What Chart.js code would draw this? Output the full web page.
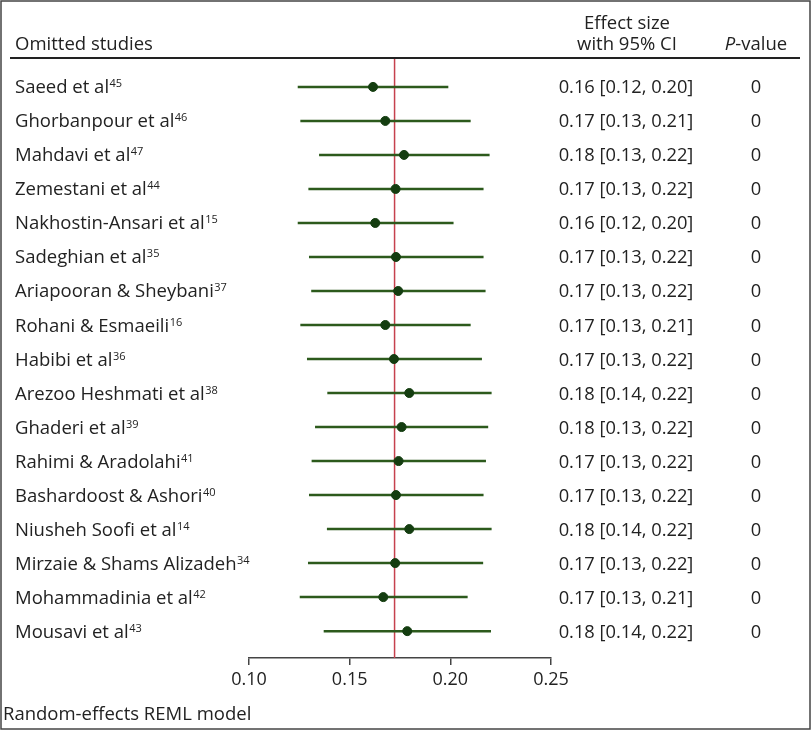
<!DOCTYPE html>
<html>
<head>
<meta charset="utf-8">
<script src="https://cdn.jsdelivr.net/npm/chart.js@4.4.1/dist/chart.umd.min.js"></script>
<style>
  body { margin: 0; background: #fff; }
  canvas { display: block; }
</style>
</head>
<body>
<canvas id="forest" width="812" height="731"></canvas>
<script>
// omitted study names + reference superscript
const studies = ['Saeed et al', 'Ghorbanpour et al', 'Mahdavi et al', 'Zemestani et al',
  'Nakhostin-Ansari et al', 'Sadeghian et al', 'Ariapooran & Sheybani', 'Rohani & Esmaeili',
  'Habibi et al', 'Arezoo Heshmati et al', 'Ghaderi et al', 'Rahimi & Aradolahi',
  'Bashardoost & Ashori', 'Niusheh Soofi et al', 'Mirzaie & Shams Alizadeh',
  'Mohammadinia et al', 'Mousavi et al'];
const refs = ['45', '46', '47', '44', '15', '35', '37', '16', '36', '38', '39', '41', '40', '14', '34', '42', '43'];

const effect = [0.1616, 0.1677, 0.1770, 0.1728, 0.1627, 0.1730, 0.1741, 0.1677, 0.1720,
  0.1796, 0.1758, 0.1743, 0.1730, 0.1796, 0.1726, 0.1667, 0.1786];
const lower = [0.1242, 0.1255, 0.1348, 0.1295, 0.1242, 0.1298, 0.1309, 0.1255, 0.1288,
  0.1389, 0.1328, 0.1311, 0.1298, 0.1387, 0.1293, 0.1252, 0.1371];
const upper = [0.1990, 0.2101, 0.2195, 0.2165, 0.2016, 0.2165, 0.2175, 0.2101, 0.2157,
  0.2205, 0.2188, 0.2177, 0.2165, 0.2205, 0.2163, 0.2086, 0.2202];
const pvalues = [0, 0, 0, 0, 0, 0, 0, 0, 0, 0, 0, 0, 0, 0, 0, 0, 0];
const pooled = 0.1723;
const xTicks = [0.10, 0.15, 0.20, 0.25];

const FONT = '"Open Sans"';
const FS = 18.5;   // labels
const NS = 18.3;   // numbers
const yMin = -0.85, yMax = 16.79;

var ciSets = studies.map((s, i) => ({
  type: 'line',
  data: [{x: lower[i], y: i}, {x: upper[i], y: i}],
  borderColor: '#2c5a1c',
  borderWidth: 2.5,
  pointRadius: 0,
  order: 2
}));

var pointSet = {
  type: 'scatter',
  data: effect.map((v, i) => ({x: v, y: i})),
  backgroundColor: '#143d10',
  borderColor: '#143d10',
  pointRadius: 4.5,
  order: 1
};

var pooledSet = {
  type: 'line',
  data: [{x: pooled, y: yMin}, {x: pooled, y: yMax}],
  borderColor: '#c6414e',
  borderWidth: 1.5,
  pointRadius: 0,
  order: 3
};

const textPlugin = {
  id: 'forestText',
  afterDraw(chart) {
    const c = chart.ctx;
    const yS = chart.scales.y;
    c.save();
    c.fillStyle = '#222';
    c.font = FS + 'px ' + FONT;
    c.textBaseline = 'alphabetic';

    // header
    c.textAlign = 'left';
    c.fillText('Omitted studies', 15, 50);
    c.textAlign = 'center';
    c.fillText('Effect size', 627, 29);
    c.fillText('with 95% CI', 627, 50);
    c.font = 'italic ' + FS + 'px ' + FONT;
    var pw = c.measureText('P').width;
    c.font = FS + 'px ' + FONT;
    var vw = c.measureText('-value').width;
    var px = 756 - (pw + vw) / 2;
    c.textAlign = 'left';
    c.font = 'italic ' + FS + 'px ' + FONT;
    c.fillText('P', px, 50);
    c.font = FS + 'px ' + FONT;
    c.fillText('-value', px + pw, 50);

    // rows
    studies.forEach((s, i) => {
      const y = yS.getPixelForValue(i) + 6.5;
      c.font = FS + 'px ' + FONT;
      c.textAlign = 'left';
      c.fillText(s, 15, y);
      const w = c.measureText(s).width;
      c.font = '11px ' + FONT;
      c.fillText(refs[i], 15 + w + 0.5, y - 6);
      c.font = NS + 'px ' + FONT;
      c.textAlign = 'center';
      c.fillText(effect[i].toFixed(2) + ' [' + lower[i].toFixed(2) + ', ' + upper[i].toFixed(2) + ']', 626, y);
      c.fillText(String(pvalues[i]), 756, y);
    });

    c.font = FS + 'px ' + FONT;
    c.textAlign = 'left';
    c.fillText('Random-effects REML model', 3, 720);

    // rules and frame
    c.strokeStyle = '#222';
    c.lineWidth = 2;
    c.beginPath();
    c.moveTo(10, 58);
    c.lineTo(800, 58);
    c.stroke();
    c.strokeStyle = '#444';
    c.lineWidth = 1.5;
    c.strokeRect(1, 1, 809, 728);
    c.restore();
  }
};

var ctx = document.getElementById('forest').getContext('2d');
var chart = new Chart(ctx, {
  data: { datasets: [pooledSet].concat(ciSets).concat([pointSet]) },
  options: {
    responsive: false,
    devicePixelRatio: 1,
    animation: false,
    layout: { padding: { left: 249, right: 261, top: 58, bottom: 33 } },
    plugins: { legend: { display: false }, tooltip: { enabled: false } },
    scales: {
      x: {
        type: 'linear',
        min: 0.10,
        max: 0.25,
        afterBuildTicks: (scale) => { scale.ticks = xTicks.map(v => ({value: v})); },
        afterFit: (scale) => { scale.height = 40; },
        ticks: {
          callback: (v) => v.toFixed(2),
          color: '#222',
          font: { family: 'Open Sans', size: 18 },
          padding: 4,
          maxRotation: 0
        },
        grid: { drawOnChartArea: false, drawTicks: true, tickLength: 7, color: '#444', lineWidth: 1.5 },
        border: { display: true, color: '#444', width: 1.5 }
      },
      y: {
        type: 'linear',
        reverse: true,
        min: yMin,
        max: yMax,
        display: false
      }
    }
  },
  plugins: [textPlugin]
});
</script>
</body>
</html>
